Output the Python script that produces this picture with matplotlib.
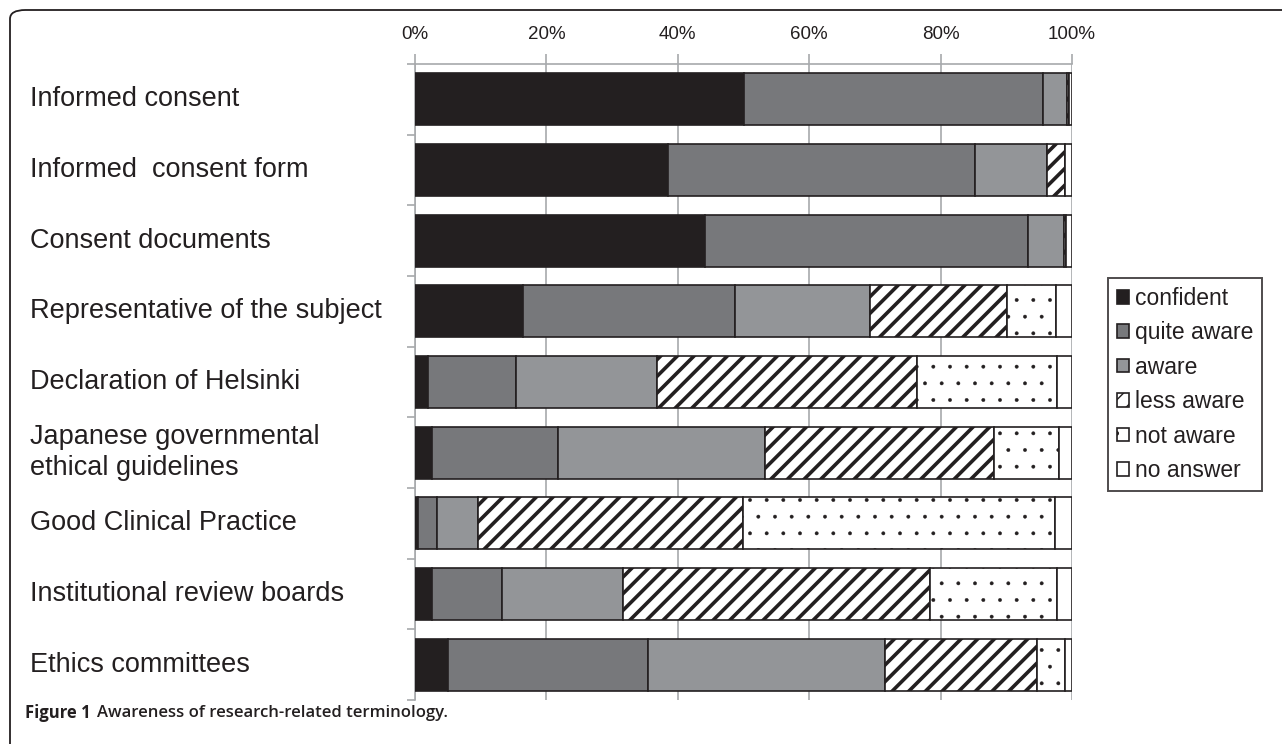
import matplotlib
matplotlib.use("Agg")
import matplotlib.pyplot as plt
import numpy as np
from matplotlib.patches import FancyBboxPatch, Patch

plt.rcParams["font.family"] = ["Liberation Sans", "DejaVu Sans"]

# data (percent of respondents)
terms = ["Informed consent", "Informed  consent form", "Consent documents",
         "Representative of the subject", "Declaration of Helsinki",
         "Japanese governmental\nethical guidelines", "Good Clinical Practice",
         "Institutional review boards", "Ethics committees"]
levels = ["confident", "quite aware", "aware", "less aware", "not aware", "no answer"]

confident   = [50.1, 38.5, 44.2, 16.4, 2.0, 2.6, 0.5, 2.6, 5.0]
quite_aware = [45.5, 46.7, 49.1, 32.3, 13.3, 19.1, 2.8, 10.6, 30.5]
aware       = [3.6, 11.0, 5.5, 20.6, 21.5, 31.6, 6.3, 18.5, 36.0]
less_aware  = [0.4, 2.7, 0.3, 20.8, 39.6, 34.8, 40.3, 46.7, 23.2]
not_aware   = [0.0, 0.0, 0.0, 7.4, 21.3, 9.9, 47.5, 19.3, 4.2]
no_answer   = [0.4, 1.1, 0.9, 2.5, 2.3, 2.0, 2.6, 2.3, 1.1]

series = [confident, quite_aware, aware, less_aware, not_aware, no_answer]
fills = ["#231f20", "#77787b", "#939598", "white", "white", "white"]
hatches = [None, None, None, "//", ".", None]
edge = "#231f20"
grid_c = "#a7a9ac"

fig = plt.figure(figsize=(12.82, 7.44), dpi=100)
ax = fig.add_axes([415 / 1282, 1 - 700 / 744, 657 / 1282, 636 / 744])

y = np.arange(len(terms))
left = np.zeros(len(terms))
for vals, fc, h in zip(series, fills, hatches):
    bars = ax.barh(y, vals, left=left, height=0.74, color=fc, edgecolor=edge,
                   linewidth=1.2, hatch=h, zorder=3)
    if h is not None and hasattr(bars[0], "set_hatch_linewidth"):
        for b in bars:
            b.set_hatch_linewidth(2.6 if h == "//" else 0.3)
    left += np.array(vals)

ax.set_xlim(0, 100)
ax.set_ylim(len(terms) - 0.5, -0.5)
ax.xaxis.tick_top()
ax.set_xticks(np.arange(0, 101, 20))
ax.set_xticklabels([f"{v}%" for v in range(0, 101, 20)], fontsize=13.5)
ax.set_yticks(np.arange(-0.5, len(terms), 1.0))
ax.set_yticklabels([])
ax.tick_params(axis="x", colors=grid_c, labelcolor="#231f20", length=7, width=1.2, pad=8)
ax.tick_params(axis="y", colors=grid_c, length=6, width=1.2)
ax.grid(True, axis="x", color=grid_c, linewidth=1.2, zorder=0)
for s in ["right", "bottom"]:
    ax.spines[s].set_visible(False)
for s in ["top", "left"]:
    ax.spines[s].set_color(grid_c)
    ax.spines[s].set_linewidth(1.2)

# category labels, left aligned at the figure edge
for yi, t in zip(y, terms):
    fy = fig.transFigure.inverted().transform(ax.transData.transform((0, yi)))[1]
    fig.text(30 / 1282, fy, t, fontsize=19.5, va="center", ha="left",
             color="#231f20", linespacing=1.25)

handles = [Patch(facecolor=fc, edgecolor=edge, hatch=h, linewidth=1.2)
           for fc, h in zip(fills, hatches)]
leg = fig.legend(handles, levels, loc="upper left",
                 bbox_to_anchor=(1108 / 1282, 1 - 278 / 744), fontsize=16.5,
                 frameon=True, fancybox=False, edgecolor="#231f20",
                 handlelength=0.55, handleheight=0.55, handletextpad=0.25,
                 labelspacing=0.5, borderpad=0.38, borderaxespad=0)
leg.get_frame().set_linewidth(1.4)
for t in leg.get_texts():
    t.set_color("#231f20")

# panel frame and caption
frame = FancyBboxPatch((10 / 1282, -0.05), 1.2, 1 - 10 / 744 + 0.05,
                       boxstyle="round,pad=0,rounding_size=0.012",
                       transform=fig.transFigure, facecolor="none",
                       edgecolor="#231f20", linewidth=1.3, clip_on=False)
fig.patches.append(frame)
cap = fig.text(25 / 1282, 1 - 713 / 744, "Figure 1", fontsize=12, fontweight="bold",
               family=["Open Sans", "DejaVu Sans"], va="center", color="#231f20")
r = fig.canvas.get_renderer()
x1 = cap.get_window_extent(r).x1
fig.text((x1 + 6) / 1282, 1 - 713 / 744, "Awareness of research-related terminology.",
         fontsize=12, fontweight="semibold", family=["Open Sans", "DejaVu Sans"],
         va="center", color="#231f20")

fig.savefig("out.png", dpi=100)
